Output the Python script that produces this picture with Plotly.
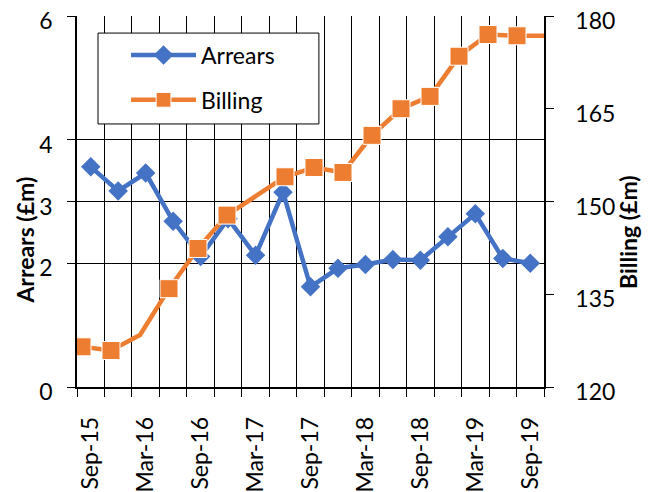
import plotly.graph_objects as go

# ---- data ----
categories = ["Sep-15", "Dec-15", "Mar-16", "Jun-16", "Sep-16", "Dec-16", "Mar-17",
              "Jun-17", "Sep-17", "Dec-17", "Mar-18", "Jun-18", "Sep-18", "Dec-18",
              "Mar-19", "Jun-19", "Sep-19"]
arrears = [3.56, 3.17, 3.46, 2.68, 2.11, 2.72, 2.13, 3.15, 1.62, 1.92, 1.98,
           2.06, 2.05, 2.43, 2.80, 2.08, 2.00]
billing = [126.5, 125.9, 128.4, 135.9, 142.4, 147.8, 150.9, 154.0, 155.5, 154.7,
           160.7, 165.0, 167.0, 173.5, 177.0, 176.8, 176.8]
left_ticks = [0, 2, 3, 4, 6]
right_ticks = [120, 135, 150, 165, 180]

# ---- style ----
BLUE = "#4472C4"
ORANGE = "#ED7D31"
FONT = "Lato"
FS = 23
no_marker = {2, 6, 16}
billing_sizes = [0 if i in no_marker else 18 for i in range(len(billing))]

fig = go.Figure()
fig.add_trace(go.Scatter(
    x=list(range(len(arrears))), y=arrears, name="Arrears",
    mode="lines+markers", legendgroup="a",
    line=dict(color=BLUE, width=4.5),
    marker=dict(symbol="diamond", size=15, color=BLUE, opacity=1),
    xaxis="x", yaxis="y",
))
fig.add_trace(go.Scatter(
    x=list(range(len(billing))), y=billing, name="Billing",
    mode="lines+markers", legendgroup="b",
    line=dict(color=ORANGE, width=4.5),
    marker=dict(symbol="square", size=billing_sizes, color=ORANGE, opacity=1),
    xaxis="x2", yaxis="y2",
))

fig.update_layout(
    width=648, height=484,
    margin=dict(l=69, r=112, t=8, b=105),
    paper_bgcolor="white", plot_bgcolor="white",
    font=dict(family=FONT, size=FS, color="black"),
    showlegend=True,
    legend=dict(x=0.105, y=0.953, xanchor="left", yanchor="top",
                bgcolor="rgba(0,0,0,0)", borderwidth=0,
                font=dict(size=FS), itemwidth=65, tracegroupgap=12),
    shapes=[dict(type="rect", xref="paper", yref="paper",
                 x0=0.045, x1=0.518, y0=0.709, y1=0.954,
                 fillcolor="white", line=dict(color="black", width=1),
                 layer="above")],
    xaxis=dict(
        range=[-0.5, len(categories) - 0.5],
        tickvals=list(range(0, len(categories), 2)),
        ticktext=categories[::2],
        tickangle=-90, ticks="", showgrid=False, zeroline=False,
        showline=True, linecolor="black", linewidth=1.5,
        tickfont=dict(size=FS), ticklabelstandoff=19, automargin=False,
        ticklabeloverflow="allow",
        minor=dict(tick0=-0.5, dtick=1, ticks="outside", ticklen=8,
                   tickcolor="black", showgrid=True, gridcolor="black",
                   gridwidth=1),
    ),
    xaxis2=dict(overlaying="x", range=[-0.172, 15.93], visible=False,
                automargin=False),
    yaxis=dict(
        range=[0, 6], tickvals=left_ticks, ticks="outside", ticklen=8,
        tickcolor="black", showline=True, linecolor="black", linewidth=1.5,
        showgrid=True, gridcolor="black", gridwidth=1, zeroline=False,
        tickfont=dict(size=FS), automargin=False, ticklabeloverflow="allow",
        ticklabelshift=5, ticklabelstandoff=10,
    ),
    yaxis2=dict(
        overlaying="y", side="right", range=[120, 180], tickvals=right_ticks,
        ticks="outside", ticklen=8, tickcolor="black", showline=True,
        linecolor="black", linewidth=1.5, showgrid=False, zeroline=False,
        tickfont=dict(size=FS), automargin=False, ticklabeloverflow="allow",
        ticklabelshift=5, ticklabelstandoff=17,
    ),
    annotations=[
        dict(text="<b>Arrears (£m)</b>", xref="paper", yref="paper",
             x=-0.111, y=0.395, xanchor="center", yanchor="middle",
             textangle=-90, showarrow=False, font=dict(size=FS)),
        dict(text="<b>Billing (£m)</b>", xref="paper", yref="paper",
             x=1.18, y=0.418, xanchor="center", yanchor="middle",
             textangle=-90, showarrow=False, font=dict(size=FS)),
    ],
)

fig.write_html("out.html")
